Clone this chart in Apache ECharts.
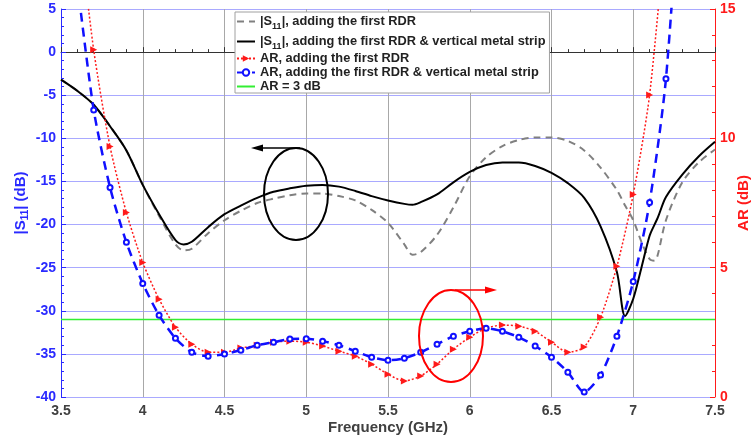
<!DOCTYPE html>
<html>
<head>
<meta charset="utf-8">
<script src="https://cdn.jsdelivr.net/npm/echarts@6/dist/echarts.min.js"></script>
<style>
  html, body { margin: 0; padding: 0; background: #ffffff; }
  #chart { width: 753px; height: 443px; }
</style>
</head>
<body>
<div id="chart"></div>
<script>
// Frequency samples (GHz) for the |S11| curves
const freqS11 = [3.5, 3.6, 3.7, 3.8, 3.9, 4.0, 4.1, 4.2, 4.25, 4.3, 4.4, 4.5, 4.6, 4.7, 4.8, 4.9,
  5.0, 5.1, 5.2, 5.3, 5.4, 5.5, 5.6, 5.65, 5.7, 5.8, 5.9, 6.0, 6.1, 6.2, 6.3, 6.4, 6.5, 6.6,
  6.7, 6.8, 6.9, 6.95, 7.0, 7.05, 7.1, 7.13, 7.15, 7.2, 7.3, 7.4, 7.5];

// |S11| (dB), first RDR only
const s11First = [-3.2, -4.5, -6.1, -8.6, -11.4, -15.4, -19.0, -22.3, -23.0, -22.8, -21.0, -19.5,
  -18.4, -17.5, -17.0, -16.6, -16.4, -16.4, -16.7, -17.2, -18.3, -19.8, -22.3, -23.5, -23.2,
  -21.2, -18.0, -14.4, -12.2, -10.9, -10.2, -9.9, -9.9, -10.3, -11.4, -13.4, -16.0, -17.8,
  -19.5, -22.0, -24.0, -24.2, -23.5, -19.5, -15.1, -12.8, -11.3];

// |S11| (dB), first RDR plus vertical metal strip
const s11Strip = [-3.2, -4.5, -6.1, -8.6, -11.4, -15.4, -18.8, -21.8, -22.3, -22.0, -20.3, -18.8,
  -17.8, -16.9, -16.2, -15.8, -15.5, -15.4, -15.6, -16.1, -16.7, -17.2, -17.6, -17.7, -17.4,
  -16.5, -15.1, -13.9, -13.1, -12.8, -12.8, -13.2, -14.0, -15.2, -16.9, -20.2, -25.5, -30.6,
  -28.6, -25.0, -21.3, -20.0, -19.2, -16.8, -14.2, -12.1, -10.4];

// Frequency samples (GHz) for the axial-ratio curves
const freqAR = [3.6, 3.7, 3.8, 3.9, 4.0, 4.1, 4.2, 4.3, 4.4, 4.5, 4.6, 4.7, 4.8, 4.9, 5.0, 5.1,
  5.2, 5.3, 5.4, 5.5, 5.6, 5.7, 5.8, 5.9, 6.0, 6.1, 6.2, 6.3, 6.4, 6.5, 6.6, 6.7, 6.8, 6.9,
  7.0, 7.1, 7.2, 7.3];

// AR (dB), first RDR only
const arFirst = [18.7, 13.42, 9.68, 7.13, 5.2, 3.78, 2.7, 2.04, 1.73, 1.73, 1.89, 2.0, 2.12, 2.16,
  2.12, 1.97, 1.77, 1.58, 1.27, 0.88, 0.62, 0.81, 1.27, 1.85, 2.31, 2.66, 2.78, 2.74, 2.54,
  2.12, 1.73, 1.93, 3.08, 5.05, 7.83, 11.68, 18.3, null];

// AR (dB), first RDR plus vertical metal strip
const arStrip = [16.0, 11.1, 8.1, 5.98, 4.39, 3.16, 2.27, 1.73, 1.58, 1.66, 1.81, 2.0, 2.12, 2.24,
  2.25, 2.16, 2.0, 1.77, 1.54, 1.42, 1.5, 1.73, 2.04, 2.35, 2.54, 2.66, 2.54, 2.31, 1.97,
  1.54, 0.96, 0.19, 0.85, 2.35, 4.47, 7.52, 12.3, 21.3];

// 3 dB axial-ratio reference
const arLimitFreq = [3.5, 7.5];
const arLimit = [3, 3];

const seriesNames = [
  '|S11|, adding the first RDR',
  '|S11|, adding the first RDR & vertical metal strip',
  'AR, adding the first RDR',
  'AR, adding the first RDR & vertical metal strip',
  'AR = 3 dB'
];

const pair = (xs, ys) => xs.map((x, i) => [x, ys[i]]);

const FONT = '"Liberation Sans", Arial, sans-serif';
const BLUE = '#2a2aff';
const RED = '#ff1a1a';

const chart = echarts.init(document.getElementById('chart'), null, { renderer: 'canvas' });

// line-only legend entries: hide the marker that the line legend icon adds
const lineOnly = name => ({ name, itemStyle: { opacity: 0 } });

chart.setOption({
  animation: false,
  backgroundColor: '#ffffff',
  grid: { left: 61, right: 38, top: 9, bottom: 46, containLabel: false, outerBoundsMode: 'none' },
  xAxis: {
    type: 'value',
    min: 3.5, max: 7.5, interval: 0.5,
    name: 'Frequency (GHz)',
    nameLocation: 'middle',
    nameGap: 23,
    nameMoveOverlap: false,
    nameTextStyle: { color: '#404040', fontWeight: 'bold', fontSize: 15, fontFamily: FONT },
    axisLine: { show: true, lineStyle: { color: '#333333', width: 1 } },
    axisTick: { show: true, inside: true, length: 5, lineStyle: { color: '#333333' } },
    minorTick: { show: true, splitNumber: 5, length: 3, lineStyle: { color: '#333333' } },
    axisLabel: { color: '#404040', fontWeight: 'bold', fontSize: 14, fontFamily: FONT, margin: 7 },
    splitLine: { show: true, lineStyle: { color: '#a8a8a8', width: 1 } }
  },
  yAxis: [
    {
      type: 'value',
      position: 'left',
      min: -40, max: 5, interval: 5,
      name: '|S{sub|11}| (dB)',
      nameLocation: 'middle',
      nameGap: 31,
      nameMoveOverlap: false,
      nameTextStyle: { color: BLUE, fontWeight: 'bold', fontSize: 15, fontFamily: FONT,
        rich: { sub: { fontSize: 10, fontWeight: 'bold', fontFamily: FONT, color: BLUE, padding: [8, 0, 0, 0] } } },
      axisLine: { show: true, lineStyle: { color: BLUE, width: 1 } },
      axisTick: { show: true, inside: true, length: 5, lineStyle: { color: BLUE } },
      minorTick: { show: true, splitNumber: 5, length: 3, lineStyle: { color: BLUE } },
      axisLabel: { color: BLUE, fontWeight: 'bold', fontSize: 14, fontFamily: FONT, margin: 5 },
      splitLine: { show: true, lineStyle: { color: '#a9a9ff', width: 1 } }
    },
    {
      type: 'value',
      position: 'right',
      min: 0, max: 15, interval: 5,
      name: 'AR (dB)',
      nameLocation: 'middle',
      nameGap: 21,
      nameMoveOverlap: false,
      nameTextStyle: { color: RED, fontWeight: 'bold', fontSize: 15, fontFamily: FONT },
      axisLine: { show: true, lineStyle: { color: RED, width: 1 } },
      axisTick: { show: true, inside: true, length: 5, lineStyle: { color: RED } },
      minorTick: { show: true, splitNumber: 5, length: 3, lineStyle: { color: RED } },
      axisLabel: { color: RED, fontWeight: 'bold', fontSize: 14, fontFamily: FONT, margin: 5 },
      splitLine: { show: false }
    }
  ],
  legend: {
    orient: 'vertical',
    left: 235, top: 12,
    backgroundColor: '#ffffff',
    borderColor: '#a0a0a0',
    borderWidth: 1,
    borderRadius: 0,
    padding: [0, 4, 0, 1],
    itemGap: 1,
    itemWidth: 18,
    itemHeight: 8,
    itemTextGap: 1,
    data: [lineOnly(seriesNames[0]), lineOnly(seriesNames[1]), seriesNames[2], seriesNames[3], lineOnly(seriesNames[4])],
    formatter: name => name.replace('S11', 'S{sub|11}'),
    textStyle: { color: '#222222', fontWeight: 'bold', fontSize: 12.8, lineHeight: 11, fontFamily: FONT,
      rich: { sub: { fontSize: 9, lineHeight: 10, fontWeight: 'bold', fontFamily: FONT, color: '#222222', padding: [10, 0, 0, 0] } } }
  },
  series: [
    {
      name: seriesNames[0],
      type: 'line',
      yAxisIndex: 0,
      data: pair(freqS11, s11First),
      smooth: 0.3,
      showSymbol: false,
      symbol: 'none',
      lineStyle: { color: '#808080', width: 2, type: [7, 5] },
      itemStyle: { color: '#808080' },
      z: 3
    },
    {
      name: seriesNames[1],
      type: 'line',
      yAxisIndex: 0,
      data: pair(freqS11, s11Strip),
      smooth: 0.3,
      showSymbol: false,
      symbol: 'none',
      lineStyle: { color: '#000000', width: 2 },
      itemStyle: { color: '#000000' },
      z: 4
    },
    {
      name: seriesNames[2],
      type: 'line',
      yAxisIndex: 1,
      data: pair(freqAR, arFirst),
      smooth: 0.25,
      symbol: 'triangle',
      symbolRotate: -90,
      symbolSize: 7,
      lineStyle: { color: RED, width: 1.5, type: [2, 2] },
      itemStyle: { color: RED },
      z: 5
    },
    {
      name: seriesNames[3],
      type: 'line',
      yAxisIndex: 1,
      data: pair(freqAR, arStrip),
      smooth: 0.25,
      symbol: 'emptyCircle',
      symbolSize: 5,
      lineStyle: { color: '#1010ff', width: 2.5, type: [9, 6] },
      itemStyle: { color: '#1010ff', borderWidth: 1.5 },
      z: 6
    },
    {
      name: seriesNames[4],
      type: 'line',
      yAxisIndex: 1,
      data: pair(arLimitFreq, arLimit),
      showSymbol: false,
      symbol: 'none',
      lineStyle: { color: '#33ee33', width: 1.5 },
      itemStyle: { color: '#33ee33' },
      z: 2
    }
  ],
  graphic: [
    // ellipse + arrow pointing to the |S11| axis
    { type: 'ellipse', shape: { cx: 296, cy: 194, rx: 32, ry: 46 },
      style: { fill: 'none', stroke: '#000000', lineWidth: 2 }, z: 20 },
    { type: 'line', shape: { x1: 300, y1: 148, x2: 258, y2: 148 },
      style: { stroke: '#000000', lineWidth: 1.5 }, z: 20 },
    { type: 'polygon', shape: { points: [[251, 148], [263, 144.5], [263, 151.5]] },
      style: { fill: '#000000' }, z: 20 },
    // ellipse + arrow pointing to the AR axis
    { type: 'ellipse', shape: { cx: 451, cy: 336, rx: 32, ry: 46 },
      style: { fill: 'none', stroke: '#ff0000', lineWidth: 2 }, z: 20 },
    { type: 'line', shape: { x1: 455, y1: 290, x2: 490, y2: 290 },
      style: { stroke: '#ff0000', lineWidth: 1.5 }, z: 20 },
    { type: 'polygon', shape: { points: [[497, 290], [485, 286.5], [485, 293.5]] },
      style: { fill: '#ff0000' }, z: 20 }
  ]
});
</script>
</body>
</html>
